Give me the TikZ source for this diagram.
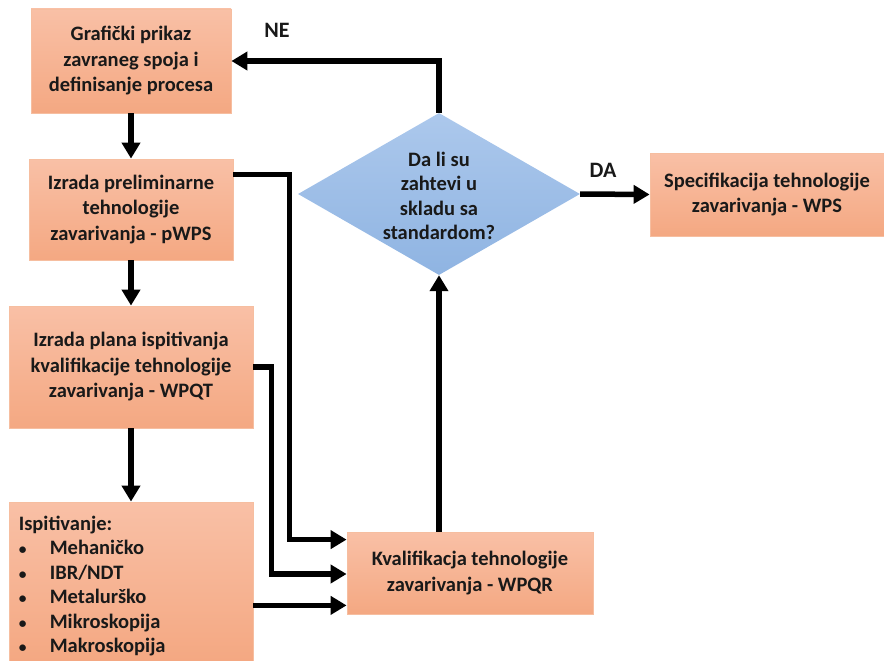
\documentclass[tikz,border=0pt]{standalone}
\usepackage{fontspec}
\setmainfont{Carlito}
\usetikzlibrary{arrows.meta,shapes.geometric,calc}
\definecolor{boxtop}{RGB}{249,192,166}
\definecolor{boxbot}{RGB}{244,168,130}
\definecolor{boxline}{RGB}{246,190,160}
\definecolor{diatop}{RGB}{172,200,236}
\definecolor{diabot}{RGB}{143,180,226}
\definecolor{txt}{RGB}{25,25,25}
\tikzset{
  btext/.style={align=center, font=\fontsize{20.5}{25.5}\selectfont\bfseries, text=txt, inner sep=4pt},
  box/.style={btext, rectangle, draw=boxline, line width=0.8pt, top color=boxtop, bottom color=boxbot},
  dia/.style={diamond, draw=none, top color=diatop, bottom color=diabot, inner sep=0pt},
  lbl/.style={font=\fontsize{22}{24}\selectfont\bfseries, text=txt, align=center},
  arr/.style={line width=5.5pt, -{Triangle[length=16pt,width=18pt]}, black}
}
\newcommand{\bul}{\makebox[31pt][l]{\scalebox{0.75}{•}}}
\begin{document}
\begin{tikzpicture}[x=1pt,y=-1pt]
\useasboundingbox (0,0) rectangle (884,661);
\node[box, minimum width=200pt, minimum height=104pt] (b1) at (131,61)
  {Grafički prikaz\\zavraneg spoja i\\definisanje procesa};
\node[box, minimum width=204pt, minimum height=101pt] (b2) at (131,209.5)
  {Izrada preliminarne\\tehnologije\\zavarivanja - pWPS};
\node[box, minimum width=244pt, minimum height=122pt] (b3) at (131,367)
  {Izrada plana ispitivanja\\kvalifikacije tehnologije\\zavarivanja - WPQT};
\node[box, minimum width=244pt, minimum height=159pt] (b4) at (131,581.5) {};
\node[btext, anchor=north west, align=left, inner sep=0pt,
  font=\fontsize{20.5}{24.5}\selectfont\bfseries] (b4t)
  at ($(b4.north west)+(10,14)$)
  {Ispitivanje:\\
   \bul Mehaničko\\
   \bul IBR/NDT\\
   \bul Metalurško\\
   \bul Mikroskopija\\
   \bul Makroskopija};
\node[box, minimum width=246pt, minimum height=82pt] (b5) at (470,573)
  {Kvalifikacja tehnologije\\zavarivanja - WPQR};
\node[box, minimum width=234pt, minimum height=83pt] (b6) at (767,194.5)
  {Specifikacija tehnologije\\zavarivanja - WPS};
\node[dia, minimum width=282pt, minimum height=162pt] (d) at (439,194) {};
\node[btext, font=\fontsize{20.5}{24.5}\selectfont\bfseries] (dt) at ($(d.center)+(0,2)$)
  {Da li su\\zahtevi u\\skladu sa\\standardom?};
\node[lbl] (ne) at (277,30) {NE};
\node[lbl] (da) at (603,170) {DA};
% connectors
\draw[arr] (b1.south) -- (b2.north);
\draw[arr] (b2.south) -- (b3.north);
\draw[arr] (b3.south) -- (b4.north);
\draw[arr] (d.north) |- (b1.east);
\draw[arr] (d.east) -- (b6.west);
\draw[arr] (b5.north -| d.south) -- (d.south);
\draw[arr] ($(b2.north east)+(0,16)$) -| ($(b5.north west)+(-57,8)$) -- ($(b5.north west)+(0,8)$);
\draw[arr] (b3.east) -| ($(b5.west)+(-75,1)$) -- ($(b5.west)+(0,1)$);
\coordinate (t4) at ($(b5.south west)+(0,-9)$);
\draw[arr] (b4.east |- t4) -- (t4);
\end{tikzpicture}
\end{document}
